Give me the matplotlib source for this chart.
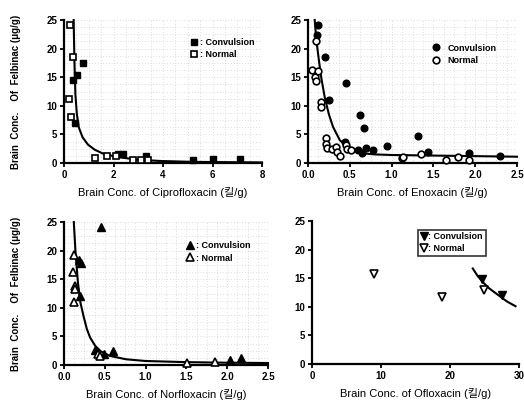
import matplotlib
matplotlib.use('Agg')
import matplotlib.pyplot as plt
from matplotlib.ticker import MultipleLocator, FormatStrFormatter

plt.rcParams['font.family'] = ['Liberation Sans', 'Noto Sans CJK KR', 'DejaVu Sans']

# 데이터
# Ciprofloxacin
cip_conv_x = [0.35, 0.54, 0.77, 0.45, 2.2, 2.4, 3.3, 5.2, 6.0, 7.1]
cip_conv_y = [14.5, 15.4, 17.5, 7.0, 1.5, 1.6, 1.3, 0.6, 0.7, 0.7]
cip_norm_x = [0.23, 0.37, 0.19, 0.30, 1.25, 1.74, 2.09, 2.77, 3.1, 3.4]
cip_norm_y = [24.2, 18.5, 11.2, 8.1, 0.8, 1.3, 1.3, 0.5, 0.5, 0.6]
cip_fit_x = [0.39, 0.42, 0.46, 0.52, 0.60, 0.75, 0.97, 1.25, 1.6, 2.1, 2.9, 3.9, 5.2, 6.5, 8.0]
cip_fit_y = [25, 18, 12, 8.5, 6.2, 4.5, 3.2, 2.3, 1.6, 1.1, 0.6, 0.35, 0.2, 0.15, 0.1]

# Enoxacin
eno_conv_x = [0.12, 0.11, 0.20, 0.25, 0.45, 0.62, 0.67, 0.44, 0.60, 0.69, 0.78, 0.64, 0.95, 1.31, 1.43, 1.92, 2.30]
eno_conv_y = [24.2, 22.4, 18.5, 11.0, 14.0, 8.4, 6.2, 3.6, 2.2, 2.7, 2.3, 1.7, 2.9, 4.8, 1.9, 1.8, 1.2]
eno_norm_x = [0.10, 0.05, 0.08, 0.10, 0.12, 0.15, 0.15, 0.21, 0.21, 0.23, 0.29, 0.33, 0.35, 0.38,
              0.45, 0.47, 0.51, 1.12, 1.14, 1.35, 1.65, 1.80, 1.92]
eno_norm_y = [21.3, 16.2, 15.0, 14.4, 16.0, 10.6, 9.8, 4.3, 3.4, 2.6, 2.4, 2.8, 1.9, 1.2,
              3.2, 2.4, 2.2, 0.8, 1.1, 1.6, 0.6, 1.0, 0.6]
eno_fit_x = [0.08, 0.10, 0.13, 0.16, 0.20, 0.25, 0.30, 0.38, 0.50, 0.65, 0.80, 1.0, 1.5, 2.0, 2.5]
eno_fit_y = [25, 21.5, 18, 14.8, 11.5, 8.5, 6.3, 4.0, 2.4, 1.7, 1.5, 1.4, 1.3, 1.2, 1.1]

# Norfloxacin
nor_conv_x = [0.45, 0.18, 0.21, 0.19, 0.38, 0.49, 0.60, 2.03, 2.17]
nor_conv_y = [24.1, 18.3, 17.8, 12.0, 2.7, 2.0, 2.4, 0.9, 1.2]
nor_norm_x = [0.12, 0.11, 0.13, 0.13, 0.12, 0.42, 0.44, 1.51, 1.85]
nor_norm_y = [19.2, 16.3, 13.8, 13.2, 11.0, 1.9, 1.5, 0.3, 0.6]
nor_fit_x = [0.12, 0.14, 0.17, 0.20, 0.24, 0.28, 0.32, 0.38, 0.45, 0.56, 0.76, 1.0, 1.5, 2.0, 2.5]
nor_fit_y = [25, 20, 14.5, 11, 8.5, 6.3, 4.8, 3.4, 2.4, 1.6, 1.0, 0.7, 0.5, 0.4, 0.35]

# Ofloxacin
ofl_conv_x = [24.7, 27.5]
ofl_conv_y = [14.8, 12.0]
ofl_norm_x = [9.0, 18.9, 24.9]
ofl_norm_y = [15.7, 11.7, 13.0]
ofl_fit_x = [23.3, 24.0, 24.7, 25.6, 26.6, 27.5, 28.3, 29.5]
ofl_fit_y = [16.7, 15.4, 14.4, 13.3, 12.4, 11.6, 10.9, 10.1]

unit = '(킬/g)'
ylab = 'Brain  Conc.    Of  Felbinac (μg/g)'

fig = plt.figure(figsize=(5.24, 4.01), dpi=100)
W, H = 524, 401


def make_ax(x0, x1, ytop, ybot):
    return fig.add_axes([x0 / W, 1 - ybot / H, (x1 - x0) / W, (ybot - ytop) / H])


def style(ax, xmax, xstep, fmt, xlabel, grid=True):
    ax.set_xlim(0, xmax)
    ax.set_ylim(0, 25)
    ax.xaxis.set_major_locator(MultipleLocator(xstep))
    ax.xaxis.set_major_formatter(FormatStrFormatter(fmt))
    ax.yaxis.set_major_locator(MultipleLocator(5))
    for s in ['top', 'right']:
        ax.spines[s].set_visible(False)
    for s in ['left', 'bottom']:
        ax.spines[s].set_linewidth(1.6)
    ax.tick_params(width=1.3, length=3, labelsize=7, pad=2)
    for lab in ax.get_xticklabels() + ax.get_yticklabels():
        lab.set_fontweight('bold')
    ax.set_xlabel(xlabel, fontsize=8, labelpad=5)
    if grid:
        ax.xaxis.set_minor_locator(MultipleLocator(xstep / 4))
        ax.yaxis.set_minor_locator(MultipleLocator(1.25))
        ax.tick_params(which='minor', length=0)
        ax.grid(True, which='both', ls=(0, (1, 3)), color='0.75', lw=0.5)
        ax.set_axisbelow(True)


def scatter(ax, cx, cy, nx, ny, fx, fy, m, ms):
    ax.plot(fx, fy, '-', color='black', lw=1.5, clip_on=False, zorder=2)
    c, = ax.plot(cx, cy, m, ls='none', color='black', ms=ms, clip_on=False, zorder=3)
    n, = ax.plot(nx, ny, m, ls='none', mfc='white', mec='black', mew=1.2, ms=ms, clip_on=False, zorder=3)
    return c, n


ax1 = make_ax(64, 262, 20, 163)
ax2 = make_ax(308, 517, 20, 163)
ax3 = make_ax(64, 268, 222, 365)
ax4 = make_ax(312, 519, 221, 364)

style(ax1, 8, 2, '%d', 'Brain Conc. of Ciprofloxacin ' + unit)
style(ax2, 2.5, 0.5, '%.1f', 'Brain Conc. of Enoxacin ' + unit)
style(ax3, 2.5, 0.5, '%.1f', 'Brain Conc. of Norfloxacin ' + unit)
style(ax4, 30, 10, '%d', 'Brain Conc. of Ofloxacin ' + unit, grid=False)

h1 = scatter(ax1, cip_conv_x, cip_conv_y, cip_norm_x, cip_norm_y, cip_fit_x, cip_fit_y, 's', 4.5)
h2 = scatter(ax2, eno_conv_x, eno_conv_y, eno_norm_x, eno_norm_y, eno_fit_x, eno_fit_y, 'o', 4.8)
h3 = scatter(ax3, nor_conv_x, nor_conv_y, nor_norm_x, nor_norm_y, nor_fit_x, nor_fit_y, '^', 5.2)
h4 = scatter(ax4, ofl_conv_x, ofl_conv_y, ofl_norm_x, ofl_norm_y, ofl_fit_x, ofl_fit_y, 'v', 5.2)

leg_kw = dict(loc='upper left', fontsize=6.5, handlelength=0.8,
              labelspacing=0.35, borderaxespad=0)
ax1.legend(h1, [': Convulsion', ': Normal'], frameon=False, handletextpad=0.3,
           bbox_to_anchor=(0.62, 0.9), **leg_kw)
ax2.legend(h2, ['Convulsion', 'Normal'], frameon=False, handletextpad=0.8,
           bbox_to_anchor=(0.58, 0.86), **leg_kw)
ax3.legend(h3, [': Convulsion', ': Normal'], frameon=False, handletextpad=0.3,
           bbox_to_anchor=(0.58, 0.89), **leg_kw)
lg4 = ax4.legend(h4, [': Convulsion', ': Normal'], frameon=True, fancybox=False,
                 bbox_to_anchor=(0.51, 0.94), borderpad=0.3, handletextpad=0.1, **leg_kw)
lg4.get_frame().set_edgecolor('black')
lg4.get_frame().set_linewidth(1.2)
for lg in [ax1.get_legend(), ax2.get_legend(), ax3.get_legend(), lg4]:
    for t in lg.get_texts():
        t.set_fontweight('bold')

for ax in [ax1, ax3]:
    ax.set_ylabel(ylab, fontsize=7, fontweight='bold', labelpad=18)

fig.savefig('out.png', dpi=100)
